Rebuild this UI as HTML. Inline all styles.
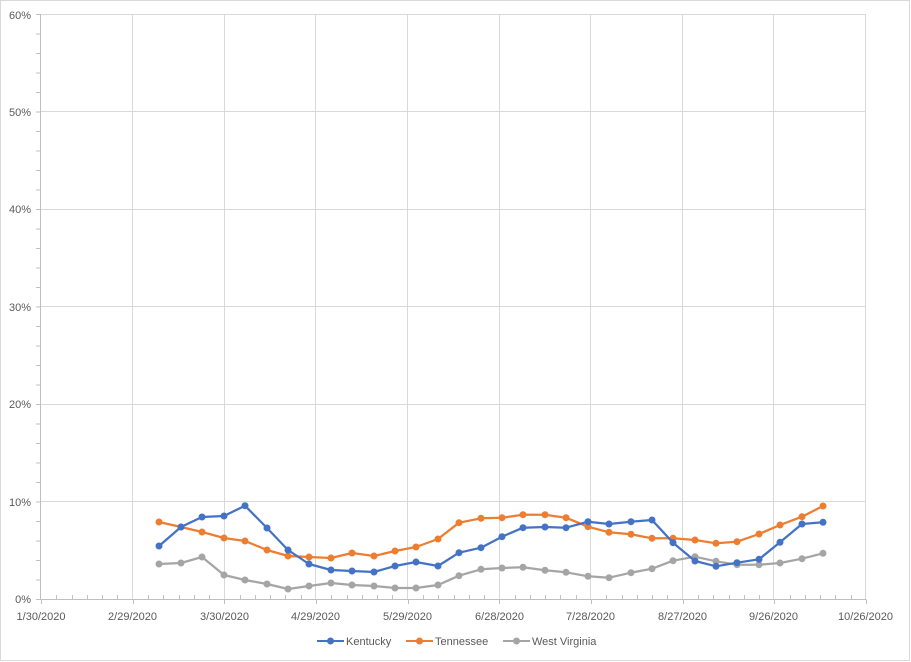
<!DOCTYPE html>
<html><head><meta charset="utf-8"><style>
body{margin:0;background:#fff}
svg{display:block;font-family:"Liberation Sans",sans-serif}
</style></head><body>
<svg width="911" height="662" xmlns="http://www.w3.org/2000/svg">
<rect x="0.5" y="0.5" width="909" height="660" fill="#fff" stroke="#d9d9d9"/>
<g stroke="#d9d9d9" stroke-width="1">
<line x1="41" y1="14.5" x2="866" y2="14.5"/>
<line x1="41" y1="111.5" x2="866" y2="111.5"/>
<line x1="41" y1="209.5" x2="866" y2="209.5"/>
<line x1="41" y1="306.5" x2="866" y2="306.5"/>
<line x1="41" y1="404.5" x2="866" y2="404.5"/>
<line x1="41" y1="501.5" x2="866" y2="501.5"/>
<line x1="132.5" y1="14" x2="132.5" y2="599"/>
<line x1="224.5" y1="14" x2="224.5" y2="599"/>
<line x1="315.5" y1="14" x2="315.5" y2="599"/>
<line x1="407.5" y1="14" x2="407.5" y2="599"/>
<line x1="499.5" y1="14" x2="499.5" y2="599"/>
<line x1="590.5" y1="14" x2="590.5" y2="599"/>
<line x1="682.5" y1="14" x2="682.5" y2="599"/>
<line x1="773.5" y1="14" x2="773.5" y2="599"/>
<line x1="865.5" y1="14" x2="865.5" y2="599"/>
</g>
<g stroke="#bfbfbf" stroke-width="1" id="ax"></g>
<g fill="#595959" font-size="11">
<text x="31" y="603" text-anchor="end">0%</text>
<text x="31" y="506" text-anchor="end">10%</text>
<text x="31" y="408" text-anchor="end">20%</text>
<text x="31" y="311" text-anchor="end">30%</text>
<text x="31" y="213" text-anchor="end">40%</text>
<text x="31" y="116" text-anchor="end">50%</text>
<text x="31" y="19" text-anchor="end">60%</text>
<text x="41" y="620" text-anchor="middle">1/30/2020</text>
<text x="132.5" y="620" text-anchor="middle">2/29/2020</text>
<text x="224.5" y="620" text-anchor="middle">3/30/2020</text>
<text x="315.5" y="620" text-anchor="middle">4/29/2020</text>
<text x="407.5" y="620" text-anchor="middle">5/29/2020</text>
<text x="499.5" y="620" text-anchor="middle">6/28/2020</text>
<text x="590.5" y="620" text-anchor="middle">7/28/2020</text>
<text x="682.5" y="620" text-anchor="middle">8/27/2020</text>
<text x="773.5" y="620" text-anchor="middle">9/26/2020</text>
<text x="865.5" y="620" text-anchor="middle">10/26/2020</text>
</g>
<g id="series"></g>
<g font-size="11" fill="#595959">
<line x1="317" y1="641" x2="344" y2="641" stroke="#4472c4" stroke-width="2"/><circle cx="330.5" cy="641" r="3.5" fill="#4472c4"/>
<text x="346" y="645">Kentucky</text>
<line x1="406" y1="641" x2="433" y2="641" stroke="#ed7d31" stroke-width="2"/><circle cx="419.5" cy="641" r="3.5" fill="#ed7d31"/>
<text x="435" y="645">Tennessee</text>
<line x1="503" y1="641" x2="530" y2="641" stroke="#a5a5a5" stroke-width="2"/><circle cx="516.5" cy="641" r="3.5" fill="#a5a5a5"/>
<text x="532" y="645">West Virginia</text>
</g>
<script>
var ns="http://www.w3.org/2000/svg";
var ax=document.getElementById("ax");
function L(a,b,c,d){var l=document.createElementNS(ns,"line");l.setAttribute("x1",a);l.setAttribute("y1",b);l.setAttribute("x2",c);l.setAttribute("y2",d);ax.appendChild(l);}
L(40.5,14,40.5,599.5);L(40.5,599.5,866,599.5);
for(var v=0;v<=60;v+=2){var y=599.5-v*9.75;L(36,y,40.5,y);}
for(var d=0;d<=270;d+=5){var x=41+d*3.0556;x=Math.round(x)+0.5;if(d%30==0)L(x,599.5,x,604);else L(x,595,x,599.5);}
var xs=[159,181,202,224,245,267,288,309,331,352,374,395,416,438,459,481,502,523,545,566,588,609,631,652,673,695,716,737,759,780,802,823];
var ky=[546,527,517,516,505.7,528,550,564,570,571,572,566,562,566,552.7,547.7,536.7,527.7,527,527.7,521.7,524,521.7,520,542.7,561,566.3,562.7,559.3,542.3,524,522.3];
var tn=[522,527,532,538,541,550,556,557,558,553,556,551,547,539,522.7,518.3,517.7,514.7,514.7,517.7,526.7,532.3,534.3,538.3,538.3,540,543.3,541.7,534,525,516.7,506];
var wv=[564,563,557,575,580,584,589,586,583,585,586,588,588,585,575.7,569.3,568,567.3,570.3,572.3,576.3,577.7,572.7,568.7,560.7,556.7,561.3,564.7,564.7,563,558.7,553.3];
var g=document.getElementById("series");
function S(d,c){var p=document.createElementNS(ns,"polyline");p.setAttribute("points",xs.map(function(x,i){return x+","+d[i]}).join(" "));p.setAttribute("fill","none");p.setAttribute("stroke",c);p.setAttribute("stroke-width","2.25");p.setAttribute("stroke-linejoin","round");g.appendChild(p);
xs.forEach(function(x,i){var k=document.createElementNS(ns,"circle");k.setAttribute("cx",x);k.setAttribute("cy",d[i]);k.setAttribute("r","3.5");k.setAttribute("fill",c);g.appendChild(k);});}
S(wv,"#a5a5a5");S(tn,"#ed7d31");S(ky,"#4472c4");
</script>
</svg>
</body></html>
